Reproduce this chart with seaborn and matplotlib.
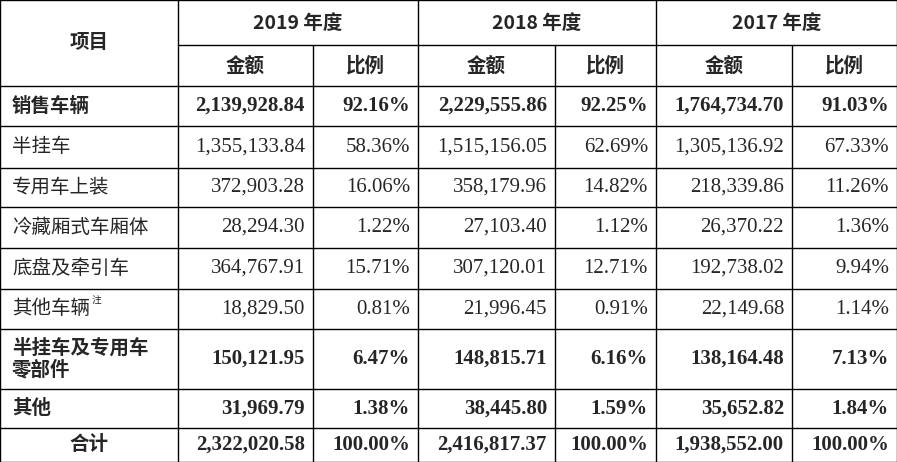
import matplotlib
matplotlib.use("Agg")
import matplotlib.pyplot as plt
import seaborn as sns

sns.set_theme(style="white")

years = ["2019 年度", "2018 年度", "2017 年度"]
sub_headers = ["金额", "比例"]
items = ["销售车辆", "半挂车", "专用车上装", "冷藏厢式车厢体", "底盘及牵引车", "其他车辆",
         "半挂车及专用车\n零部件", "其他", "合计"]
amt_2019 = ["2,139,928.84", "1,355,133.84", "372,903.28", "28,294.30", "364,767.91", "18,829.50",
            "150,121.95", "31,969.79", "2,322,020.58"]
pct_2019 = ["92.16%", "58.36%", "16.06%", "1.22%", "15.71%", "0.81%", "6.47%", "1.38%", "100.00%"]
amt_2018 = ["2,229,555.86", "1,515,156.05", "358,179.96", "27,103.40", "307,120.01", "21,996.45",
            "148,815.71", "38,445.80", "2,416,817.37"]
pct_2018 = ["92.25%", "62.69%", "14.82%", "1.12%", "12.71%", "0.91%", "6.16%", "1.59%", "100.00%"]
amt_2017 = ["1,764,734.70", "1,305,136.92", "218,339.86", "26,370.22", "192,738.02", "22,149.68",
            "138,164.48", "35,652.82", "1,938,552.00"]
pct_2017 = ["91.03%", "67.33%", "11.26%", "1.36%", "9.94%", "1.14%", "7.13%", "1.84%", "100.00%"]
bold_rows = [0, 6, 7, 8]

cols = [0, 178, 313, 418, 555, 656, 792, 897]
rows = [0, 45, 86, 126, 168, 207, 248, 289, 329, 389, 428, 462]

cjk = "Noto Sans CJK SC"
serif = "Liberation Serif"

fig = plt.figure(figsize=(8.97, 4.62), dpi=100)
ax = fig.add_axes([0, 0, 1, 1])
ax.set_xlim(0, 897)
ax.set_ylim(462, 0)
ax.axis("off")

lw = 1.0
for y in rows:
    x0 = 178 if y == 45 else 0
    ax.plot([x0, 897], [y, y], color="black", lw=lw)
for x in cols:
    if x in (313, 555, 792):
        ax.plot([x, x], [45, 462], color="black", lw=lw)
    else:
        ax.plot([x, x], [0, 462], color="black", lw=lw)

# headers
ax.text(89, 43, "项目", ha="center", va="center", fontfamily=cjk, fontsize=14, fontweight="bold")
for k, yr in enumerate(years):
    xc = (cols[1 + 2 * k] + cols[3 + 2 * k]) / 2
    ax.text(xc, 23, yr, ha="center", va="center", fontfamily=cjk, fontsize=14, fontweight="bold")
    for j, sh in enumerate(sub_headers):
        xs = (cols[1 + 2 * k + j] + cols[2 + 2 * k + j]) / 2
        ax.text(xs, 66, sh, ha="center", va="center", fontfamily=cjk, fontsize=14, fontweight="bold")

series = [amt_2019, pct_2019, amt_2018, pct_2018, amt_2017, pct_2017]
for r, name in enumerate(items):
    yc = (rows[r + 2] + rows[r + 3]) / 2
    b = "bold" if r in bold_rows else "normal"
    if name == "合计":
        ax.text(89, yc, name, ha="center", va="center", fontfamily=cjk, fontsize=14, fontweight=b)
    else:
        ax.text(12, yc, name, ha="left", va="center", fontfamily=cjk, fontsize=14,
                fontweight=b, linespacing=1.1)
    if name == "其他车辆":
        ax.text(92, yc - 8, "注", ha="left", va="center", fontfamily=cjk, fontsize=7)
    for c, vals in enumerate(series):
        ax.text(cols[c + 2] - 8, yc, vals[r], ha="right", va="center", fontfamily=serif,
                fontsize=15, fontweight=b)

fig.savefig("out.png", dpi=100)
